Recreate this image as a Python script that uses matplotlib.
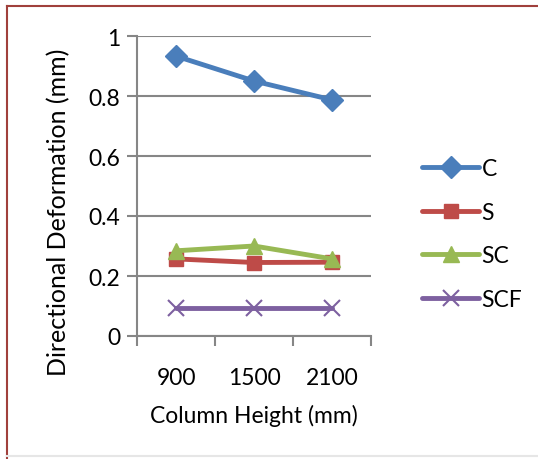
import numpy as np
import matplotlib.pyplot as plt
from matplotlib.lines import Line2D

plt.rcParams['font.family'] = ['Lato', 'DejaVu Sans']

heights = ['900', '1500', '2100']
c_vals = [0.933, 0.85, 0.787]
s_vals = [0.257, 0.245, 0.246]
sc_vals = [0.284, 0.30, 0.257]
scf_vals = [0.092, 0.092, 0.092]

series = [('C', c_vals, '#4A7EBB', 'D', 11),
          ('S', s_vals, '#BE4B48', 's', 10),
          ('SC', sc_vals, '#98B954', '^', 11),
          ('SCF', scf_vals, '#7D60A0', 'x', 11)]

fig = plt.figure(figsize=(5.38, 4.6), dpi=100)
ax = fig.add_axes([137/538, 1-337/460, 234/538, 300/460])

x = np.arange(len(heights))
for name, vals, col, mk, ms in series:
    ax.plot(x, vals, color=col, lw=3.5, marker=mk, markersize=ms,
            markeredgewidth=1.5 if mk == 'x' else 1, markeredgecolor=col,
            label=name, solid_capstyle='round')

ax.set_xlim(-0.5, 2.5)
ax.set_ylim(0, 1)
ax.set_yticks([0, 0.2, 0.4, 0.6, 0.8, 1.0])
ax.set_yticklabels(['0', '0.2', '0.4', '0.6', '0.8', '1'])
ax.yaxis.grid(True, color='#868686', lw=1.5)
ax.set_axisbelow(True)
ax.tick_params(axis='y', length=7, width=1.5, color='#868686', labelsize=16.5, pad=5)

ax.set_xticks([-0.5, 0.5, 1.5, 2.5])
ax.set_xticklabels([])
ax.set_xticks(x, minor=True)
ax.set_xticklabels(heights, minor=True)
ax.tick_params(axis='x', which='major', length=7, width=1.5, color='#868686')
ax.tick_params(axis='x', which='minor', length=0, labelsize=16.5, pad=22)

for sp in ['top', 'right']:
    ax.spines[sp].set_visible(False)
ax.spines['left'].set_color('#868686')
ax.spines['left'].set_linewidth(1.5)
ax.spines['bottom'].set_color('#868686')
ax.spines['bottom'].set_linewidth(1.5)

ax.set_xlabel('Column Height (mm)', fontsize=16.5, labelpad=12)
ax.set_ylabel('Directional Deformation (mm)', fontsize=18)
ax.yaxis.set_label_coords(-0.333, 0.417)
ax.yaxis.label.set_va('center')

ax.legend(loc='center left', bbox_to_anchor=(1.13, 0.34), frameon=False,
          fontsize=16.5, handlelength=2.5, handletextpad=0.1, labelspacing=1.0)

# outer chart border: red left/top, light gray bottom
fig.add_artist(Line2D([7/538, 7/538], [0, 1-7/460], transform=fig.transFigure,
                      color='#A0403C', lw=1.5))
fig.add_artist(Line2D([7/538, 1], [1-7/460, 1-7/460], transform=fig.transFigure,
                      color='#A0403C', lw=1.5))
fig.add_artist(Line2D([7/538, 1], [1-457/460, 1-457/460], transform=fig.transFigure,
                      color='#E6E6E6', lw=1.5))

fig.savefig('out.png', dpi=100)
